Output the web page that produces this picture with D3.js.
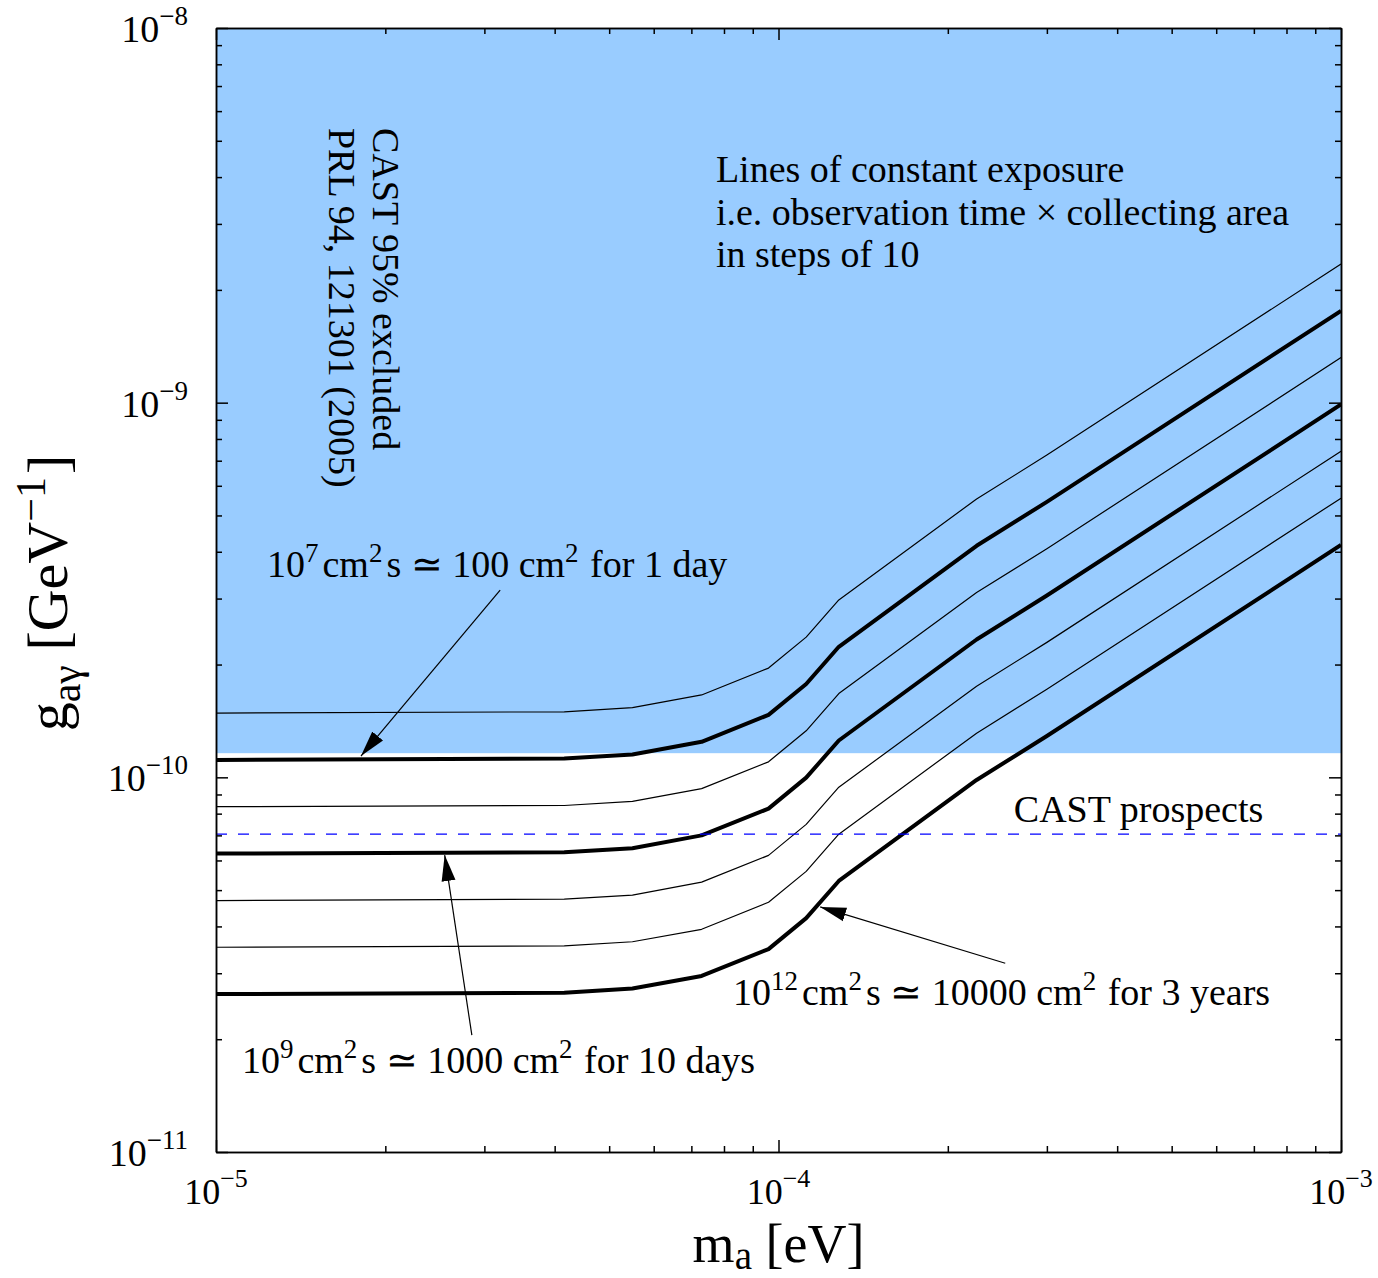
<!DOCTYPE html>
<html>
<head>
<meta charset="utf-8">
<script src="https://cdn.jsdelivr.net/npm/d3@7"></script>
<style>
  body { margin: 0; background: #fff; }
  text { font-family: "Liberation Serif", "Times New Roman", serif; fill: #000; }
</style>
</head>
<body>
<div id="chart"></div>
<script>
// axion mass grid (eV) at which the sensitivity lines bend
var massEV = [1e-5, 4.16e-5, 5.5e-5, 7.3e-5, 9.6e-5, 1.12e-4, 1.28e-4, 2.25e-4, 3.0e-4, 1e-3];

// g_agamma (GeV^-1) along lines of constant exposure (cm^2 s)
var exposures = ["1e6", "1e7", "1e8", "1e9", "1e10", "1e11", "1e12"];
var g1e6  = [1.484e-10, 1.496e-10, 1.535e-10, 1.659e-10, 1.957e-10, 2.367e-10, 2.975e-10, 5.533e-10, 7.248e-10, 2.345e-9];
var g1e7  = [1.113e-10, 1.122e-10, 1.151e-10, 1.244e-10, 1.468e-10, 1.775e-10, 2.231e-10, 4.150e-10, 5.436e-10, 1.758e-9];
var g1e8  = [8.35e-11, 8.41e-11, 8.63e-11, 9.33e-11, 1.100e-10, 1.331e-10, 1.673e-10, 3.112e-10, 4.076e-10, 1.319e-9];
var g1e9  = [6.26e-11, 6.31e-11, 6.47e-11, 7.00e-11, 8.25e-11, 9.98e-11, 1.254e-10, 2.333e-10, 3.057e-10, 9.89e-10];
var g1e10 = [4.69e-11, 4.73e-11, 4.85e-11, 5.25e-11, 6.19e-11, 7.49e-11, 9.41e-11, 1.750e-10, 2.292e-10, 7.42e-10];
var g1e11 = [3.52e-11, 3.55e-11, 3.64e-11, 3.93e-11, 4.64e-11, 5.61e-11, 7.05e-11, 1.312e-10, 1.719e-10, 5.56e-10];
var g1e12 = [2.64e-11, 2.66e-11, 2.73e-11, 2.95e-11, 3.48e-11, 4.21e-11, 5.29e-11, 9.84e-11, 1.289e-10, 4.17e-10];
var thickExposures = ["1e7", "1e9", "1e12"];

// CAST 95% exclusion (PRL 94, 121301) and CAST prospects
var castExcluded = 1.16e-10;
var castProspects = 7.05e-11;

// tick labels: powers of ten
var xTickPowers = [-5, -4, -3];
var yTickPowers = [-11, -10, -9, -8];

var series = [g1e6, g1e7, g1e8, g1e9, g1e10, g1e11, g1e12].map(function (g, i) {
    return {
        exposure: exposures[i],
        thick: thickExposures.indexOf(exposures[i]) >= 0,
        points: massEV.map(function (m, j) { return [m, g[j]]; })
    };
});

var margin = {top: 28, right: 37, bottom: 126, left: 216},
    width = 1378 - margin.left - margin.right,
    height = 1278 - margin.top - margin.bottom;

var svgRoot = d3.select("#chart")
    .append("svg")
    .attr("width", 1378)
    .attr("height", 1278);

var svg = svgRoot.append("g")
    .attr("transform", "translate(" + margin.left + "," + margin.top + ")");

var x = d3.scaleLog().domain([1e-5, 1e-3]).range([0, width]);
var y = d3.scaleLog().domain([1e-11, 1e-8]).range([height, 0]);

svgRoot.append("defs").append("clipPath").attr("id", "plotclip")
    .append("rect").attr("width", width).attr("height", height);

var defs = svgRoot.select("defs");
defs.append("marker")
    .attr("id", "head")
    .attr("markerUnits", "userSpaceOnUse")
    .attr("viewBox", "0 -8 26 16")
    .attr("refX", 26).attr("refY", 0)
    .attr("markerWidth", 26).attr("markerHeight", 16)
    .attr("orient", "auto")
    .append("path")
    .attr("d", "M0,-7L26,0L0,7Z")
    .attr("fill", "#000");

// excluded region
svg.append("rect")
    .attr("x", 0)
    .attr("y", y(1e-8))
    .attr("width", width)
    .attr("height", y(castExcluded) - y(1e-8))
    .attr("fill", "#99ccff");

var plot = svg.append("g").attr("clip-path", "url(#plotclip)");

var line = d3.line()
    .x(function (d) { return x(d[0]); })
    .y(function (d) { return y(d[1]); });

plot.selectAll(".exposure")
    .data(series)
    .enter()
    .append("path")
    .attr("class", "exposure")
    .attr("d", function (d) { return line(d.points); })
    .attr("fill", "none")
    .attr("stroke", "#000")
    .attr("stroke-linejoin", "round")
    .attr("stroke-width", function (d) { return d.thick ? 4 : 1.2; });

// CAST prospects
plot.append("line")
    .attr("x1", 0).attr("x2", width)
    .attr("y1", y(castProspects)).attr("y2", y(castProspects))
    .attr("stroke", "#0000ff")
    .attr("stroke-width", 1.3)
    .attr("stroke-dasharray", "11,11");

// axes: inward ticks on all four sides
var minorX = x.ticks().filter(function (v) { return Math.abs(Math.log10(v) % 1) > 1e-6; });
var minorY = y.ticks().filter(function (v) { return Math.abs(Math.log10(v) % 1) > 1e-6; });
var majorX = xTickPowers.map(function (p) { return Math.pow(10, p); });
var majorY = yTickPowers.map(function (p) { return Math.pow(10, p); });

function addAxis(gen, scale, minor, major, transform) {
    var g = svg.append("g").attr("transform", transform);
    g.call(gen(scale).tickValues(minor).tickSize(-6).tickSizeOuter(0).tickFormat(""));
    var g2 = svg.append("g").attr("transform", transform);
    g2.call(gen(scale).tickValues(major).tickSize(-12).tickSizeOuter(0).tickFormat(""));
    [g, g2].forEach(function (s) {
        s.selectAll("path, line").attr("stroke", "#000").attr("stroke-width", 1.5);
    });
}
addAxis(d3.axisBottom, x, minorX, majorX, "translate(0," + height + ")");
addAxis(d3.axisTop, x, minorX, majorX, "translate(0,0)");
addAxis(d3.axisLeft, y, minorY, majorY, "translate(0,0)");
addAxis(d3.axisRight, y, minorY, majorY, "translate(" + width + ",0)");

// text helper: parts are [string, "sup" | "sub" | null, dx]
function richText(sel, parts, size, smallSize, shift) {
    var level = 0;
    parts.forEach(function (p) {
        var target = p[1] === "sup" ? -shift : p[1] === "sub" ? shift * 0.6 : 0;
        var t = sel.append("tspan")
            .attr("font-size", p[1] ? smallSize : size)
            .attr("dy", target - level)
            .text(p[0]);
        if (p[2]) t.attr("dx", p[2]);
        level = target;
    });
    return sel;
}

// x tick labels
xTickPowers.forEach(function (p) {
    var t = svg.append("text")
        .attr("x", x(Math.pow(10, p)))
        .attr("y", height + 52)
        .attr("text-anchor", "middle");
    richText(t, [["10"], ["\u2212" + (-p), "sup"]], 36, 26, 17);
});

// y tick labels
yTickPowers.forEach(function (p) {
    var t = svg.append("text")
        .attr("x", -28)
        .attr("y", y(Math.pow(10, p)) + 14)
        .attr("text-anchor", "end");
    richText(t, [["10"], ["\u2212" + (-p), "sup"]], 38, 27, 17);
});

// axis titles
var xt = svg.append("text")
    .attr("x", width / 2)
    .attr("y", height + 110)
    .attr("text-anchor", "middle");
richText(xt, [["m"], ["a", "sub"], [" [eV]"]], 54, 39, 12);

var yt = svg.append("text")
    .attr("transform", "translate(" + (67 - margin.left) + "," + (593 - margin.top) + ") rotate(-90)")
    .attr("text-anchor", "middle");
richText(yt, [["g"], ["a\u03b3", "sub"], [" [GeV"], ["\u22121", "sup"], ["]", null, 3]], 58, 42, 22);

// CAST exclusion label (rotated)
var castLines = ["CAST 95% excluded", "PRL 94, 121301 (2005)"];
castLines.forEach(function (s, i) {
    svg.append("text")
        .attr("transform", "translate(" + (x(1.9e-5) - i * 44) + "," + y(5.41e-9) + ") rotate(90)")
        .attr("font-size", 38)
        .text(s);
});

// exposure explanation
var notes = ["Lines of constant exposure", "i.e. observation time \u00d7 collecting area", "in steps of 10"];
notes.forEach(function (s, i) {
    svg.append("text")
        .attr("x", x(7.74e-5))
        .attr("y", y(3.88e-9) + i * 42.5)
        .attr("font-size", 38)
        .text(s);
});

svg.append("text")
    .attr("x", x(2.62e-4))
    .attr("y", y(7.6e-11))
    .attr("font-size", 38)
    .text("CAST prospects");

// labelled exposures with arrows
var annotations = [
    {at: [1.232e-5, 3.43e-10], from: [3.2e-5, 3.16e-10], to: [1.81e-5, 1.14e-10],
     parts: [["10"], ["7", "sup"], ["cm", null, 4], ["2", "sup"], ["s \u2243 100 cm", null, 4], ["2", "sup"], [" for 1 day", null, 2]]},
    {at: [1.112e-5, 1.626e-11], from: [2.85e-5, 2.05e-11], to: [2.55e-5, 6.2e-11],
     parts: [["10"], ["9", "sup"], ["cm", null, 4], ["2", "sup"], ["s \u2243 1000 cm", null, 4], ["2", "sup"], [" for 10 days", null, 2]]},
    {at: [8.3e-5, 2.47e-11], from: [2.53e-4, 3.19e-11], to: [1.186e-4, 4.51e-11],
     parts: [["10"], ["12", "sup"], ["cm", null, 4], ["2", "sup"], ["s \u2243 10000 cm", null, 4], ["2", "sup"], [" for 3 years", null, 2]]}
];

annotations.forEach(function (a) {
    svg.append("line")
        .attr("x1", x(a.from[0])).attr("y1", y(a.from[1]))
        .attr("x2", x(a.to[0])).attr("y2", y(a.to[1]))
        .attr("stroke", "#000")
        .attr("stroke-width", 1.2)
        .attr("marker-end", "url(#head)");
    var t = svg.append("text")
        .attr("x", x(a.at[0]))
        .attr("y", y(a.at[1]));
    richText(t, a.parts, 38, 27, 15);
});
</script>
</body>
</html>
